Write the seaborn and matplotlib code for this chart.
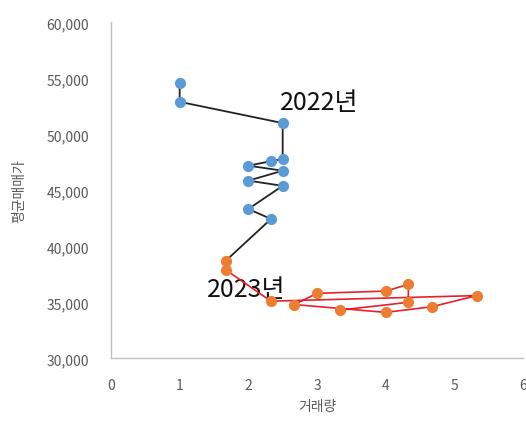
import matplotlib
matplotlib.use("Agg")
import matplotlib.pyplot as plt
import seaborn as sns
import pandas as pd

# 2022: monthly trading volume vs. average sale price
vol_2022 = [1.0, 1.0, 2.5, 2.5, 2.33, 2.0, 2.5, 2.0, 2.5, 2.0, 2.33]
price_2022 = [54600, 52900, 51000, 47800, 47600, 47200, 46750, 45860, 45400, 43330, 42440]

# 2023
vol_2023 = [1.67, 1.67, 2.33, 5.33, 4.67, 4.0, 2.67, 3.0, 4.0, 4.33, 4.33, 3.33]
price_2023 = [38700, 37900, 35100, 35600, 34600, 34100, 34800, 35800, 36000, 36600, 35000, 34300]

year_labels = ["2022년", "2023년"]
x_ticks = [0, 1, 2, 3, 4, 5, 6]
y_ticks = [30000, 35000, 40000, 45000, 50000, 55000, 60000]

sns.set_theme(style="white")
plt.rcParams["font.family"] = ["Noto Sans CJK KR", "DejaVu Sans"]

df22 = pd.DataFrame({"vol": vol_2022, "price": price_2022})
df23 = pd.DataFrame({"vol": vol_2023, "price": price_2023})
# the 2022 path runs on into the first month of 2023
df22_path = pd.concat([df22, df23.iloc[:1]], ignore_index=True)

fig = plt.figure(figsize=(5.26, 4.27), dpi=100)
ax = fig.add_axes([111 / 526, (427 - 359.3) / 427, (523 - 111) / 526, (359.3 - 23.3) / 427])

sns.lineplot(data=df22_path, x="vol", y="price", sort=False, estimator=None,
             color="#222222", linewidth=1.3, ax=ax, zorder=2)
sns.lineplot(data=df23, x="vol", y="price", sort=False, estimator=None,
             color="#E8202A", linewidth=1.2, ax=ax, zorder=2)
sns.scatterplot(data=df22, x="vol", y="price", color="#5B9BD5", s=65,
                edgecolor="#5B9BD5", linewidth=0, ax=ax, zorder=3)
sns.scatterplot(data=df23, x="vol", y="price", color="#ED7D31", s=65,
                edgecolor="#ED7D31", linewidth=0, ax=ax, zorder=3)

ax.text(2.46, 52880, year_labels[0], fontsize=18, color="#111111",
        ha="left", va="center", zorder=4)
ax.text(1.40, 36190, year_labels[1], fontsize=18, color="#111111",
        ha="left", va="center", zorder=1)

ax.set_xlim(0, 6)
ax.set_ylim(30000, 60000)
ax.set_xticks(x_ticks)
ax.set_yticks(y_ticks)
ax.set_yticklabels([f"{v:,}" for v in y_ticks])
ax.tick_params(axis="x", length=0, pad=14, labelsize=10, labelcolor="#595959")
ax.tick_params(axis="y", length=0, pad=16, labelsize=10, labelcolor="#595959")

ax.set_xlabel("거래량", fontsize=10, color="#595959", labelpad=5)
ax.set_ylabel("평균매매가", fontsize=10, color="#595959", labelpad=14)

for side in ["top", "right"]:
    ax.spines[side].set_visible(False)
for side in ["left", "bottom"]:
    ax.spines[side].set_color("#BFBFBF")
    ax.spines[side].set_linewidth(1.0)
ax.grid(False)

fig.savefig("out.png", dpi=100)
